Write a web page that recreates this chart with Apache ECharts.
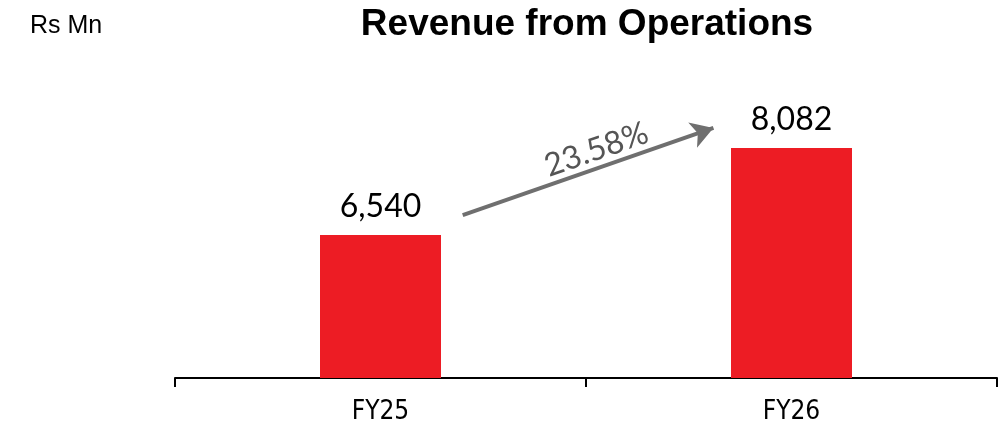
<!DOCTYPE html>
<html>
<head>
<meta charset="utf-8">
<script src="https://cdn.jsdelivr.net/npm/echarts@6/dist/echarts.min.js"></script>
<style>
  html, body { margin: 0; padding: 0; background: #fff; }
  #chart { width: 999px; height: 431px; }
</style>
</head>
<body>
<div id="chart"></div>
<script>
var categories = ["FY25", "FY26"];
var revenue = [6540, 8082];
var growthLabel = "23.58%";
// arrow ends, in (category position, value) space
var arrowStart = [0.2, 6890];
var arrowEnd = [0.81, 8440];

var chart = echarts.init(document.getElementById("chart"));

var option = {
  animation: false,
  title: [
    {
      text: "Revenue from Operations",
      left: 582,
      top: 1,
      textAlign: "center",
      textStyle: { fontFamily: "Liberation Sans", fontWeight: "bold", fontSize: 37, color: "#000" }
    },
    {
      text: "Rs Mn",
      left: 25,
      top: 9,
      textStyle: { fontFamily: "Liberation Sans", fontWeight: "normal", fontSize: 25, color: "#000" }
    }
  ],
  grid: { left: 175, right: 2, top: 40, bottom: 53 },
  xAxis: [
    {
      type: "category",
      data: categories,
      axisLine: { lineStyle: { color: "#000", width: 2 } },
      axisTick: { show: true, length: 9, lineStyle: { color: "#000", width: 2 } },
      axisLabel: { margin: 21, fontFamily: "DejaVu Sans Condensed", fontSize: 26, color: "#000" }
    },
    {
      type: "value",
      min: -0.5,
      max: 1.5,
      show: false
    }
  ],
  yAxis: {
    type: "value",
    min: 4000,
    max: 10000,
    show: false,
    splitLine: { show: false }
  },
  series: [
    {
      type: "bar",
      data: revenue,
      barWidth: 121,
      itemStyle: { color: "#ED1C24" },
      label: {
        show: true,
        position: "top",
        distance: 12,
        fontFamily: "Lato",
        fontSize: 32,
        color: "#000",
        formatter: function (p) { return p.value.toLocaleString("en-US"); }
      }
    },
    {
      type: "line",
      xAxisIndex: 1,
      data: [],
      markLine: {
        silent: true,
        symbol: ["none", "arrow"],
        symbolSize: [20, 22],
        lineStyle: { color: "#6f6f6f", width: 4, type: "solid" },
        label: {
          show: true,
          position: "middle",
          formatter: growthLabel,
          fontFamily: "Lato",
          fontSize: 32,
          color: "#555",
          padding: [0, 0, 0, 30],
          distance: 2
        },
        data: [[{ coord: arrowStart }, { coord: arrowEnd }]]
      }
    }
  ]
};

chart.setOption(option);
</script>
</body>
</html>
